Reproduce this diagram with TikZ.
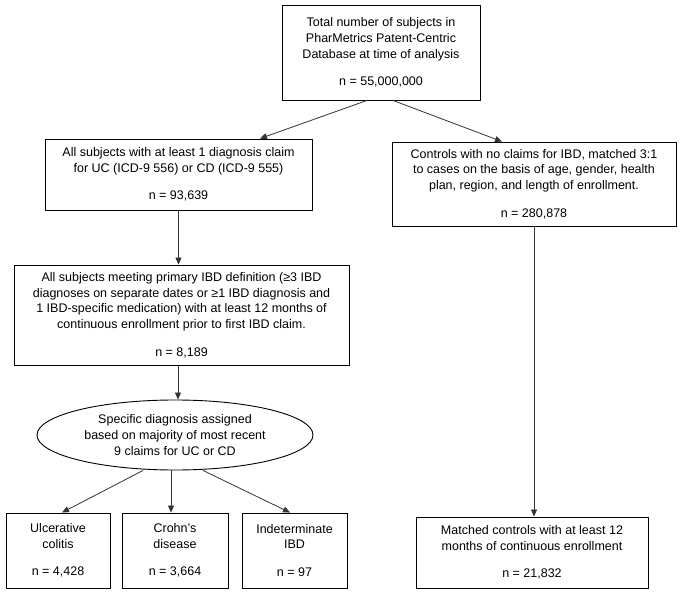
\documentclass[tikz,border=0pt]{standalone}
\usepackage{fontspec}
\setmainfont{Liberation Sans}
\usepackage{tikz}
\usetikzlibrary{positioning, arrows.meta, shapes.geometric}

\begin{document}
\begin{tikzpicture}[x=1pt, y=-1pt,
		font=\fontsize{12.5}{15.7}\selectfont,
		box/.style={draw, line width=0.9pt, rectangle, align=center, inner sep=0pt},
		oval/.style={draw, line width=0.9pt, ellipse, align=center, inner sep=0pt},
		link/.style={-{Triangle[length=7pt, width=6pt]}, line width=0.8pt, draw=black!80}]
		\useasboundingbox (0,0) rectangle (689,602);
		\node[box, minimum width=198pt, minimum height=95pt] (total) at (381,52.5)
			{Total number of subjects in\\ PharMetrics Patent-Centric\\ Database at time of analysis\\[12pt] n = 55,000,000};
		\node[box, minimum width=267pt, minimum height=71pt] (any) at (178.5,174.5)
			{All subjects with at least 1 diagnosis claim\\ for UC (ICD-9 556) or CD (ICD-9 555)\\[12pt] n = 93,639};
		\node[box, minimum width=284pt, minimum height=84pt] (ctrl) at (534,184)
			{Controls with no claims for IBD, matched 3:1\\ to cases on the basis of age, gender, health\\ plan, region, and length of enrollment.\\[12pt] n = 280,878};
		\node[box, minimum width=335pt, minimum height=100pt] (ibd) at (181.5,315)
			{All subjects meeting primary IBD definition (≥3 IBD\\ diagnoses on separate dates or ≥1 IBD diagnosis and\\ 1 IBD-specific medication) with at least 12 months of\\ continuous enrollment prior to first IBD claim.\\[12pt] n = 8,189};
		\node[oval, minimum width=276pt, minimum height=70pt] (diag) at (175,435)
			{Specific diagnosis assigned\\ based on majority of most recent\\ 9 claims for UC or CD};
		\node[box, minimum width=104pt, minimum height=75pt] (uc) at (58,550.5)
			{Ulcerative\\ colitis\\[12pt] n = 4,428};
		\node[box, minimum width=106pt, minimum height=75pt] (cd) at (175,550.5)
			{Crohn's\\ disease\\[12pt] n = 3,664};
		\node[box, minimum width=105pt, minimum height=75pt] (ind) at (294.5,550.5)
			{Indeterminate\\ IBD\\[12pt] n = 97};
		\node[box, minimum width=232pt, minimum height=71pt] (match) at (532,552.5)
			{Matched controls with at least 12\\ months of continuous enrollment\\[12pt] n = 21,832};
		
		\draw[link] ([xshift=-14pt]total.south) -- ([xshift=81.5pt]any.north);
		\draw[link] ([xshift=12pt]total.south) -- ([xshift=-32pt]ctrl.north);
		\draw[link] (any.south) -- (any.south |- ibd.north);
		\draw[link] ([xshift=-3.5pt]ibd.south) -- ([xshift=-3.5pt]ibd.south |- diag.north);
		\draw[link] ([xshift=-32pt]diag.south) -- ([xshift=4pt]uc.north);
		\draw[link] ([xshift=-4pt]diag.south) -- ([xshift=-4pt]cd.north);
		\draw[link] ([xshift=28pt]diag.south) -- ([xshift=-4.5pt]ind.north);
		\draw[link] (ctrl.south) -- (ctrl.south |- match.north);
	\end{tikzpicture}
\end{document}
